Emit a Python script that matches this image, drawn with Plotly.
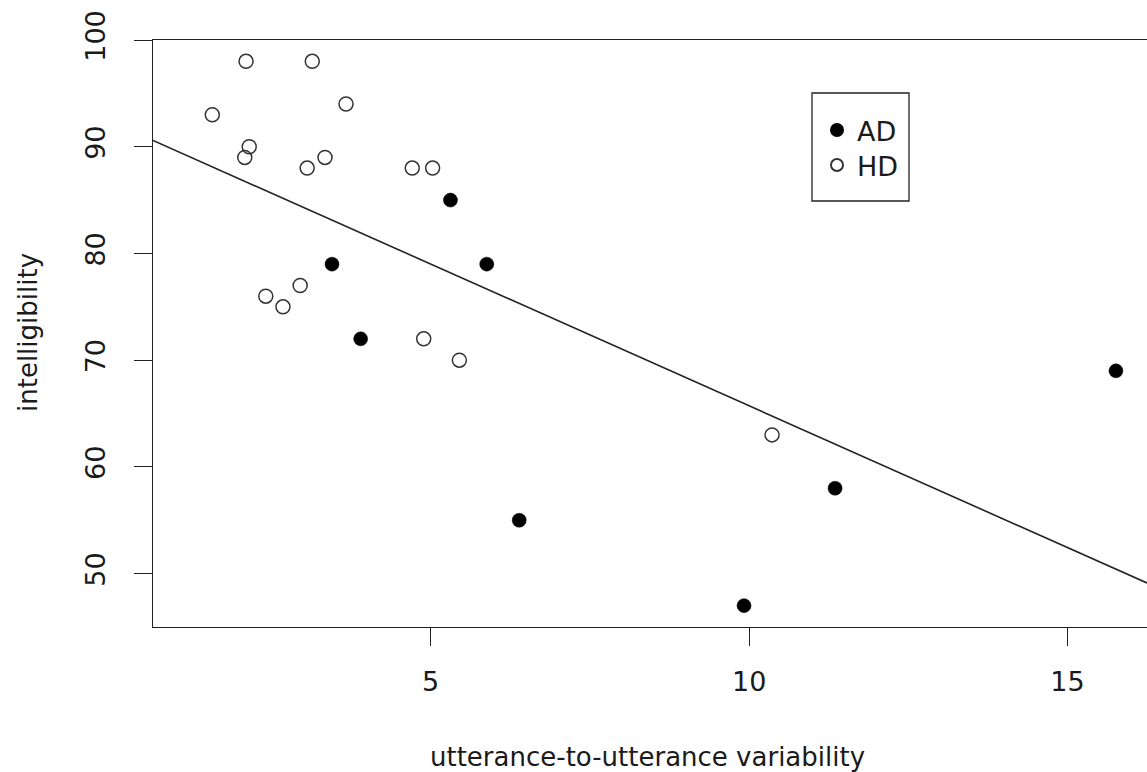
import numpy as np
import plotly.graph_objects as go

# ---- data ----
ad_x = [5.31, 3.45, 5.88, 3.90, 6.39, 9.92, 11.35, 15.76]
ad_y = [85, 79, 79, 72, 55, 47, 58, 69]

hd_x = [2.10, 3.14, 1.57, 3.67, 2.15, 2.08, 3.06, 3.34, 4.71, 5.03,
        2.41, 2.68, 2.95, 4.89, 5.45, 10.36]
hd_y = [98, 98, 93, 94, 90, 89, 88, 89, 88, 88,
        76, 75, 77, 72, 70, 63]

x_ticks = [5, 10, 15]
y_ticks = [50, 60, 70, 80, 90, 100]

x_title = "utterance-to-utterance variability"
y_title = "intelligibility"

# ---- layout constants ----
W, H = 1147, 772
ML, MR, MT, MB = 153, 0, 40, 145
X_RANGE = [0.639, 16.248]
Y_RANGE = [45.0, 100.0]
FONT = "DejaVu Sans, Liberation Sans, Arial, sans-serif"
INK = "#1a1a1a"
FS_TICK = 27
FS_TITLE = 26

# regression line (least squares over all points)
all_x = np.array(ad_x + hd_x)
all_y = np.array(ad_y + hd_y)
slope, intercept = np.polyfit(all_x, all_y, 1)
line_x = np.array(X_RANGE)
line_y = intercept + slope * line_x

fig = go.Figure()

fig.add_trace(go.Scatter(
    x=line_x, y=line_y, mode="lines",
    line=dict(color="#222222", width=1.6),
    showlegend=False, hoverinfo="skip"))

fig.add_trace(go.Scatter(
    x=ad_x, y=ad_y, mode="markers", name="AD", legend="legend",
    marker=dict(symbol="circle", size=14, color="#000000",
                line=dict(color="#000000", width=0.5))))

fig.add_trace(go.Scatter(
    x=hd_x, y=hd_y, mode="markers", name="HD", legend="legend2",
    marker=dict(symbol="circle-open", size=14, color="#333333",
                line=dict(color="#333333", width=1.5))))

def px_to_paper_x(px):
    return (px - ML) / (W - ML - MR)

def px_to_paper_y(py):
    return (H - MB - py) / (H - MB - MT)

# legend box
fig.add_shape(type="rect", xref="paper", yref="paper",
              x0=px_to_paper_x(812), x1=px_to_paper_x(909),
              y0=px_to_paper_y(201), y1=px_to_paper_y(93),
              line=dict(color="#222222", width=1.3),
              fillcolor="rgba(0,0,0,0)")

legend_common = dict(xanchor="left", yanchor="top",
                     bgcolor="rgba(0,0,0,0)", borderwidth=0,
                     font=dict(family=FONT, size=FS_TICK, color=INK),
                     itemsizing="constant")

fig.update_layout(
    width=W, height=H,
    margin=dict(l=ML, r=MR, t=MT, b=MB, autoexpand=False),
    paper_bgcolor="white", plot_bgcolor="white",
    font=dict(family=FONT, size=FS_TICK, color=INK),
    showlegend=True,
    legend=dict(x=px_to_paper_x(817), y=px_to_paper_y(106), **legend_common),
    legend2=dict(x=px_to_paper_x(817), y=px_to_paper_y(141), **legend_common),
    xaxis=dict(range=X_RANGE, tickvals=x_ticks, ticktext=[str(v) for v in x_ticks],
               showgrid=False, zeroline=False,
               showline=True, linecolor="#222222", linewidth=1.3, mirror=True,
               ticks="outside", ticklen=18, tickwidth=1.3, tickcolor="#222222",
               ticklabelstandoff=12,
               tickfont=dict(family=FONT, size=FS_TICK, color=INK)),
    yaxis=dict(range=Y_RANGE, tickvals=y_ticks, ticktext=[str(v) for v in y_ticks],
               showgrid=False, zeroline=False,
               showline=True, linecolor="#222222", linewidth=1.3, mirror=False,
               ticks="outside", ticklen=18, tickwidth=1.3, tickcolor="#222222",
               tickangle=-90, ticklabelstandoff=18,
               tickfont=dict(family=FONT, size=FS_TICK, color=INK)),
    annotations=[
        dict(text=x_title, xref="paper", yref="paper", x=px_to_paper_x(647),
             y=0, yshift=-(757 - (H - MB)), xanchor="center", yanchor="middle",
             showarrow=False, font=dict(family=FONT, size=FS_TITLE, color=INK)),
        dict(text=y_title, xref="paper", yref="paper", x=0, xshift=-(ML - 28),
             y=px_to_paper_y(333), xanchor="center", yanchor="middle", textangle=-90,
             showarrow=False, font=dict(family=FONT, size=FS_TITLE, color=INK)),
    ],
)

fig.write_html("out.html",
               config={"displayModeBar": False},
               post_script="document.body.style.margin='0';document.body.style.overflow='hidden';")
